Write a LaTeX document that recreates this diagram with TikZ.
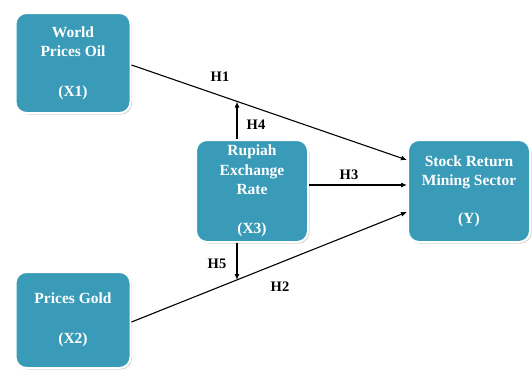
\documentclass[tikz,border=0pt]{standalone}
\usepackage{fontspec}
\setmainfont{Liberation Serif}
\usetikzlibrary{arrows.meta,shadows}
\definecolor{boxteal}{HTML}{3A9BB8}
\begin{document}
\begin{tikzpicture}[x=1pt,y=-1pt,
  varbox/.style={draw=white,line width=2pt,fill=boxteal,rounded corners=11pt,
    drop shadow={shadow xshift=1.5pt,shadow yshift=-1.5pt,opacity=0.35},
    text=white,font=\fontsize{15.5}{19.5}\selectfont\bfseries,align=center,inner sep=0pt},
  conn/.style={line width=1.1pt,-{Latex[length=6pt,width=5pt]}},
  hlab/.style={font=\fontsize{14.5}{16}\selectfont\bfseries,inner sep=1pt}]
\useasboundingbox (0,0) rectangle (532,373);
\node[varbox,minimum width=115pt,minimum height=100pt] (oil) at (73,63) {World\\Prices Oil\\[20pt](X1)};
\node[varbox,minimum width=115pt,minimum height=96pt] (gold) at (73,320) {Prices Gold\\[20pt](X2)};
\node[varbox,minimum width=112pt,minimum height=102pt] (rup) at (252,191) {Rupiah\\Exchange\\Rate\\[19pt](X3)};
\node[varbox,minimum width=122pt,minimum height=102pt] (stock) at (469,191) {Stock Return\\Mining Sector\\[18pt](Y)};
\coordinate (h4end) at (237,101.5);
\coordinate (h5end) at (237,280);
\draw[conn] (oil.east |- 0,65) -- (stock.west |- 0,160);
\draw[conn] (gold.east |- 0,322) -- (stock.west |- 0,212);
\draw[conn] (rup.east |- 0,185) -- (stock.west |- 0,185);
\draw[conn] (rup.north -| h4end) -- (h4end);
\draw[conn] (rup.south -| h5end) -- (h5end);
\node[hlab] (lh1) at (220,77) {H1};
\node[hlab] (lh4) at (256,125) {H4};
\node[hlab] (lh3) at (349,175) {H3};
\node[hlab] (lh5) at (217,264) {H5};
\node[hlab] (lh2) at (280,287) {H2};
\end{tikzpicture}
\end{document}
